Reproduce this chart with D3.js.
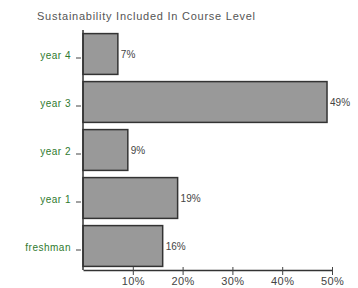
<!DOCTYPE html>
<html>
<head>
<meta charset="utf-8">
<script src="https://cdn.jsdelivr.net/npm/d3@7"></script>
<style>
  body { margin: 0; background: #fff; }
  svg { display: block; font-family: "Liberation Sans", Arial, sans-serif; }
</style>
</head>
<body>
<div id="chart"></div>
<script>
// course levels, top to bottom
var levels = ['year 4', 'year 3', 'year 2', 'year 1', 'freshman'];
var percents = [7, 49, 9, 19, 16];
var tickValues = [10, 20, 30, 40, 50];

var width = 358, height = 288;
var margin = { top: 30, right: 26, bottom: 18, left: 83 };

var svg = d3.select('#chart').append('svg')
  .attr('width', width)
  .attr('height', height);

svg.append('text')
  .attr('x', 37)
  .attr('y', 20)
  .attr('fill', '#555')
  .style('font-size', '11px')
  .style('letter-spacing', '0.75px')
  .text('Sustainability Included In Course Level');

var x = d3.scaleLinear()
  .domain([0, 50])
  .range([margin.left, width - margin.right]);

var y = d3.scaleBand()
  .domain(levels)
  .range([margin.top, height - margin.bottom])
  .paddingInner(0.15)
  .paddingOuter(0.075);

var data = levels.map(function (d, i) { return { level: d, value: percents[i] }; });

svg.selectAll('.bar')
  .data(data)
  .enter().append('rect')
  .attr('class', 'bar')
  .attr('x', x(0))
  .attr('y', function (d) { return y(d.level); })
  .attr('width', function (d) { return x(d.value) - x(0); })
  .attr('height', y.bandwidth())
  .attr('fill', '#999')
  .attr('stroke', '#333')
  .attr('stroke-width', 1.5);

svg.selectAll('.val')
  .data(data)
  .enter().append('text')
  .attr('class', 'val')
  .attr('x', function (d) { return x(d.value) + 3; })
  .attr('y', function (d) { return y(d.level) + y.bandwidth() / 2; })
  .attr('dy', '0.35em')
  .attr('fill', '#444')
  .style('font-size', '10px')
  .text(function (d) { return d.value + '%'; });

// y axis
var yAxis = d3.axisLeft(y).tickSize(5).tickPadding(5);
var ga = svg.append('g')
  .attr('transform', 'translate(' + (x(0) - 2) + ',4)')
  .call(yAxis);
ga.select('.domain').remove();
ga.selectAll('line').attr('stroke', '#444');
ga.selectAll('text')
  .attr('fill', '#2f7a2f')
  .attr('y', -2)
  .style('font-size', '10px')
  .style('letter-spacing', '0.5px')
  .style('font-family', '"Liberation Sans", Arial, sans-serif');

// y axis line
svg.append('line')
  .attr('x1', x(0)).attr('x2', x(0))
  .attr('y1', margin.top).attr('y2', height - margin.bottom)
  .attr('stroke', '#333')
  .attr('stroke-width', 1.5);

// x axis
var xAxis = d3.axisBottom(x)
  .tickValues(tickValues)
  .tickSize(5)
  .tickPadding(2)
  .tickFormat(function (d) { return d + '%'; })
  .tickSizeOuter(0);
var gx = svg.append('g')
  .attr('transform', 'translate(0,' + (height - margin.bottom) + ')')
  .call(xAxis);
gx.select('.domain').attr('stroke', '#333').attr('stroke-width', 1.5);
gx.selectAll('line').attr('stroke', '#444').attr('y1', -3);
gx.selectAll('text')
  .attr('fill', '#444')
  .style('font-size', '11px')
  .style('letter-spacing', '0.4px')
  .style('font-family', '"Liberation Sans", Arial, sans-serif');
</script>
</body>
</html>
